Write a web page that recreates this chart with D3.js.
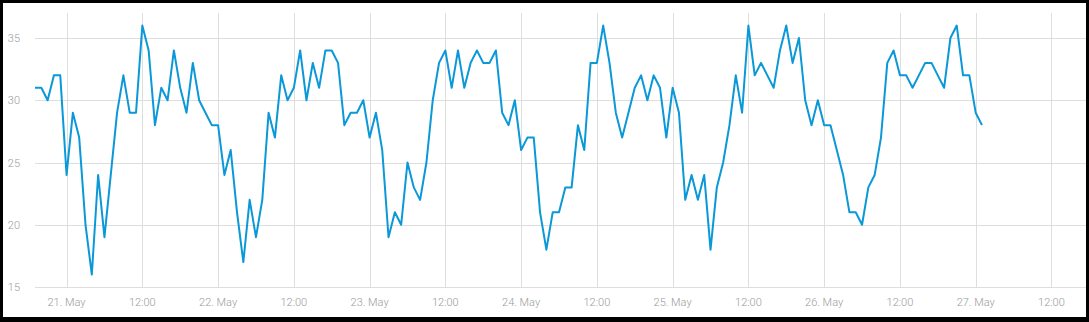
<!DOCTYPE html>
<html>
<head>
<meta charset="utf-8">
<script src="https://cdn.jsdelivr.net/npm/d3@7"></script>
<style>
  html, body { margin: 0; padding: 0; background: #fff; }
  svg { display: block; }
  .tick-label { font-family: Roboto, "Open Sans", sans-serif; font-weight: 300; font-size: 11px; fill: #9b9b9b; }
</style>
</head>
<body>
<script>
'use strict';

// hourly readings, first one at 20 May 19:00
let startTime = new Date(2017, 4, 20, 19, 0);
let endTime = new Date(2017, 4, 27, 17, 0); // right edge of the plot
let values = [
  31, 31, 30, 32, 32, 24, 29, 27, 20, 16, 24, 19, 24, 29, 32, 29, 29, 36, 34, 28,
  31, 30, 34, 31, 29, 33, 30, 29,
  28, 28, 24, 26, 21, 17, 22, 19, 22, 29, 27, 32, 30, 31, 34, 30, 33, 31, 34, 34,
  33, 28, 29, 29, 30, 27, 29, 26, 19,
  21, 20, 25, 23, 22, 25, 30, 33, 34, 31, 34, 31, 33, 34, 33, 33, 34, 29, 28, 30,
  26, 27, 27, 21, 18, 21, 21, 23, 23,
  28, 26, 33, 33, 36, 33, 29, 27, 29, 31, 32, 30, 32, 31, 27, 31, 29, 22, 24, 22,
  24, 18, 23, 25, 28, 32, 29, 36,
  32, 33, 32, 31, 34, 36, 33, 35, 30, 28, 30, 28, 28, 26, 24, 21, 21, 20, 23, 24,
  27, 33, 34, 32, 32, 31, 32, 33, 33, 32, 31, 35, 36, 32, 32, 29, 28
];
let yTicks = [15, 20, 25, 30, 35];
let xTicks = d3.timeHour.every(12).range(new Date(2017, 4, 21, 0, 0), new Date(2017, 4, 27, 13, 0));

let width = 1089, height = 322;
let plot = { left: 35, right: 1083, top: 13, bottom: 287 };

let data = values.map((v, i) => ({ t: d3.timeHour.offset(startTime, i), v: v }));

let svg = d3.select('body').append('svg')
  .attr('width', width)
  .attr('height', height);

let xScale = d3.scaleTime()
  .domain([startTime, endTime])
  .range([plot.left, plot.right]);

let yScale = d3.scaleLinear()
  .domain([15, 35])
  .range([plot.bottom, 38]);

// vertical grid lines
svg.append('g').selectAll('line')
  .data(xTicks)
  .enter()
  .append('line')
    .attr('x1', (d) => Math.round(xScale(d)) + 0.5)
    .attr('x2', (d) => Math.round(xScale(d)) + 0.5)
    .attr('y1', plot.top)
    .attr('y2', plot.bottom)
    .attr('stroke', '#dedede');

// horizontal grid lines
svg.append('g').selectAll('line')
  .data(yTicks)
  .enter()
  .append('line')
    .attr('x1', plot.left)
    .attr('x2', width)
    .attr('y1', (d) => Math.round(yScale(d)) + 0.5)
    .attr('y2', (d) => Math.round(yScale(d)) + 0.5)
    .attr('stroke', '#dedede');

// y labels
svg.append('g').selectAll('text')
  .data(yTicks)
  .enter()
  .append('text')
    .attr('class', 'tick-label')
    .attr('x', 20)
    .attr('y', (d) => yScale(d) + 4)
    .attr('text-anchor', 'end')
    .text((d) => d);

// x labels
let dayFormat = d3.timeFormat('%-d. %b');
let hourFormat = d3.timeFormat('%H:%M');
svg.append('g').selectAll('text')
  .data(xTicks)
  .enter()
  .append('text')
    .attr('class', 'tick-label')
    .attr('x', (d) => xScale(d))
    .attr('y', 306)
    .attr('text-anchor', 'middle')
    .text((d) => d.getHours() === 0 ? dayFormat(d) : hourFormat(d));

// the series
let line = d3.line()
  .x((d) => xScale(d.t))
  .y((d) => yScale(d.v));

svg.append('path')
  .datum(data)
  .attr('d', line)
  .attr('fill', 'none')
  .attr('stroke', '#0a98d8')
  .attr('stroke-width', 2)
  .attr('stroke-linejoin', 'round');

// frame
svg.append('rect')
  .attr('x', 1.5)
  .attr('y', 1.5)
  .attr('width', width - 3)
  .attr('height', height - 5)
  .attr('fill', 'none')
  .attr('stroke', '#000')
  .attr('stroke-width', 3);
svg.append('rect')
  .attr('x', 0)
  .attr('y', height - 5)
  .attr('width', width)
  .attr('height', 5)
  .attr('fill', '#000');
</script>
</body>
</html>
